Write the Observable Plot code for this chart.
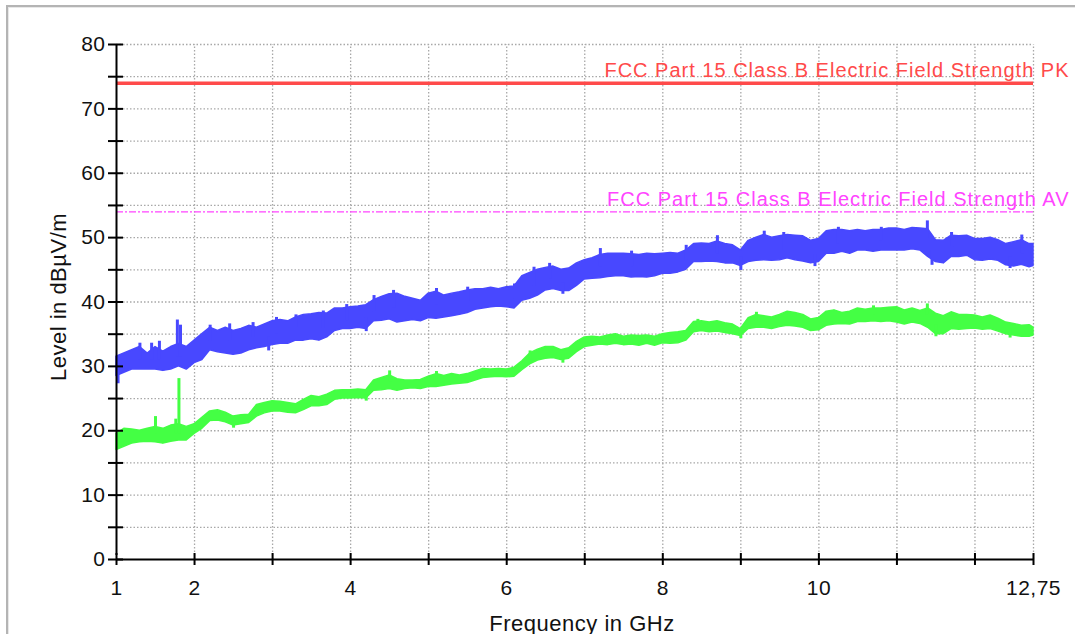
<!DOCTYPE html>
<html>
<head>
<meta charset="utf-8">
<script src="https://cdn.jsdelivr.net/npm/d3@7"></script>
<script src="https://cdn.jsdelivr.net/npm/@observablehq/plot@0.6"></script>
<style>
  html, body { margin: 0; padding: 0; background: #fff; overflow: hidden; }
  #wrap { position: relative; width: 1075px; height: 634px; }
  #frame { position: absolute; left: 6px; top: 5px; width: 1075px; height: 640px;
           border-left: 2px solid #b4b4b4; border-top: 2px solid #b4b4b4; box-shadow: inset 1px 1px 0 #e8e8e8; }
  #chart { position: absolute; left: 0; top: 0; }
  #chart g[fill="#ff4a4a"], #chart g[fill="#ff44ff"] { letter-spacing: 1px; }
  #chart g[fill="#111"] text { letter-spacing: 0.5px; }
</style>
</head>
<body>
<div id="wrap"><div id="frame"></div><div id="chart"></div></div>
<script>
// ---- data ----
const freq = [1.0,1.1,1.2,1.3,1.4,1.5,1.6,1.7,1.8,1.9,2.0,2.1,2.2,2.3,2.4,2.5,2.6,2.7,2.8,2.9,
  3.0,3.1,3.2,3.3,3.4,3.5,3.6,3.7,3.8,3.9,4.0,4.1,4.2,4.3,4.4,4.5,4.6,4.7,4.8,4.9,
  5.0,5.1,5.2,5.3,5.4,5.5,5.6,5.7,5.8,5.9,6.0,6.1,6.2,6.3,6.4,6.5,6.6,6.7,6.8,6.9,
  7.0,7.1,7.2,7.3,7.4,7.5,7.6,7.7,7.8,7.9,8.0,8.1,8.2,8.3,8.4,8.5,8.6,8.7,8.8,8.9,
  9.0,9.1,9.2,9.3,9.4,9.5,9.6,9.7,9.8,9.9,10.0,10.1,10.2,10.3,10.4,10.5,10.6,10.7,10.8,10.9,
  11.0,11.1,11.2,11.3,11.4,11.5,11.6,11.7,11.8,11.9,12.0,12.1,12.2,12.3,12.4,12.5,12.6,12.7,12.75];

// Peak trace: lower and upper edge of the noise band
const pkLow = [28.5,29,29.5,29.5,29.5,29.5,29.3,29.5,30,29.5,30.5,31,32.5,32.2,32,31.8,32,32.5,32.8,33,
  33.3,33.5,33.5,34,34,34.2,34,34.5,35.5,35.8,35.8,36,35.8,37,37.1,37.3,36.8,37,37.2,37,
  37.5,37.4,37.6,37.8,38,38.3,38.8,39,39.2,39.3,39.2,39,40.2,40.5,41,41.8,42,41.7,41.7,42.5,
  43.5,43.6,43.7,43.9,44,44,43.8,43.9,43.8,44,44.4,44.4,44.6,45,46.2,46.2,46.3,46.2,46,46,
  45.6,46.2,46.4,46.5,46.4,46.5,46.8,46.5,46.3,46,46.2,47.5,47.5,47.8,47.5,48,48,47.8,48,48,
  48,48,48.2,48,47,46.2,46,47,47,47.2,46.5,46.4,46.6,46.4,45.7,45.5,45.8,45.4,45.6];
const pkHigh = [31.5,32,32.5,33,32,33,32.3,33,33.5,33,34,35,36,35.5,36,35.5,35.8,36.3,36,36.5,
  37,37.2,37,37.6,38,38.1,38.3,38.2,39,39,39.2,39.3,39.5,40.3,40.8,41.2,41.3,40.8,40.5,40.2,
  41.3,41.6,41,41.3,41.5,41.8,42,42,42.2,42,42.3,42.4,44,44.5,45,45.3,45.5,45,45.2,46,
  46.5,46.8,47.3,47.5,47.5,47.5,47.4,47.3,47.5,47.4,47.5,47.6,47.5,48,49,49.1,49,49.4,49,48.8,
  48,49.5,50,50.4,50,50.2,50.4,50.3,50.2,49.5,49.8,51,51.2,51.2,51,51.2,51,51.2,51.2,51.4,
  51.4,51.2,51.5,51.4,51.3,49.6,49.5,50.3,50.2,50.3,49.8,49.8,50,49.6,49,49.3,49.6,49,49];

// Average trace: lower and upper edge of the noise band
const avLow = [17,17.5,18,18.2,18.3,18.2,18,18.3,18.5,18.5,19.5,20.3,21.5,21.6,21.3,20.8,21,21.2,22.2,22.7,
  23,23,22.8,22.7,23.2,23.8,23.8,24,24.8,25,25,25.1,25,26.2,26.3,26.5,26.2,26.5,26.6,26.5,
  26.8,26.8,27,27.2,27.3,27.4,27.8,28.2,28.3,28.4,28.3,28.4,29.4,30.3,30.9,31.2,31.3,31,31.2,32.2,
  33,33.2,33.4,33.3,33.5,33.3,33.4,33.2,33.5,33.2,33.6,33.5,33.6,34,35.3,35.5,35.3,35.4,35.2,35,
  34.7,35.8,36,36,35.8,36.1,36.3,36.2,36,35.5,35.6,36.3,36.5,36.6,36.5,36.9,36.9,37,36.9,37,
  36.8,36.5,36.8,36.6,36,35,35,35.8,35.7,35.8,35.9,35.7,35.8,35.4,35,34.8,34.6,34.6,34.8];
const avHigh = [19.5,20.3,20.2,20,20.3,20.6,20.3,20.8,21,20.6,21,22,23,23.2,22.8,22.2,22.4,22.5,24,24.3,
  24.6,24.5,24.3,24.1,24.8,25.4,25.2,25.6,26.2,26.3,26.3,26.4,26.3,27.8,28.2,28.6,28,27.8,27.8,27.9,
  28.4,28.8,28.5,28.8,28.6,28.8,29.2,29.6,29.5,29.6,29.5,29.8,30.8,32,32.6,33,33,32.5,32.8,33.8,
  34.5,34.6,34.5,34.8,35,34.6,34.8,34.7,34.8,34.6,35,35.2,35.3,35.5,36.9,37,36.8,37,36.7,36.5,
  35.8,37.5,38,37.8,37.6,38,38.5,38.3,38,37.3,37.5,38.5,38.7,38.3,38.5,39,38.8,39,39,39.1,
  39.2,38.7,39,38.6,39,38.2,37.8,38.4,38,38,37.9,37.6,37.9,37.4,36.8,36.6,36.3,36.4,36];

// Narrow spikes sticking out of the bands: frequency, start inside band, tip
const pkSpikeF   = [1.02,1.3,1.45,1.55,1.78,1.82,2.2,2.45,2.75,2.95,3.05,3.3,3.65,3.95,4.2,4.3,4.55,5.1,5.5,6.1,6.35,6.55,6.72,7.2,7.6,8.3,8.7,9.0,9.3,9.55,9.95,10.25,10.8,11.39,11.45,11.7,12.45,12.6];
const pkSpikeFrom= [30,31,31,31,31.5,31.5,34,34,34.5,34.5,35,36,36,37,37.5,38.5,39,39.5,40,40.5,42.5,43.5,43,45.5,45.5,46.5,47.5,47,48,48,47.5,49,49.5,50,48,48.5,47,47.5];
const pkSpikeTo  = [27.3,33.6,33.6,33.9,37.2,36.4,36.4,36.6,36.8,32.4,37.6,38,38.6,39.6,35.4,41,41.8,42.1,42.3,42.8,45.4,46,41.2,48.3,47.9,48.8,50.3,44.9,51,50.8,45.5,51.6,51.6,52.6,45.7,50.8,45.2,50.4];

const avSpikeF   = [1.5,1.76,1.8,2.5,4.2,4.5,5.1,6.3,6.72,8.45,9.0,9.2,10.7,11.39,11.5,12.45];
const avSpikeFrom= [19.5,19.5,19.5,21.5,25.5,27.5,28,31,31.8,36,35.2,37,38,38,36.5,35.8];
const avSpikeTo  = [22.2,21.8,28.1,20.4,24.6,29.3,29.2,32.4,30.5,37.3,34.3,38.4,39.4,39.7,34.6,34.4];

const limitPK = 74;
const limitAV = 54;
const limitPKLabel = "FCC Part 15 Class B Electric Field Strength PK";
const limitAVLabel = "FCC Part 15 Class B Electric Field Strength AV";

const xDomain = [1, 12.75];
const yDomain = [0, 80];
const xGrid = [2,3,4,5,6,7,8,9,10,11,12,12.75];
const xTicks = [1,2,3,4,5,6,7,8,9,10,11,12,12.75];
const xTickLabels = [1,2,4,6,8,10,12.75];
const yGrid = [5,10,15,20,25,30,35,40,45,50,55,60,65,70,75,80];
const yTicks = [0,5,10,15,20,25,30,35,40,45,50,55,60,65,70,75,80];
const yTickLabels = [0,10,20,30,40,50,60,70,80];
const xTitle = "Frequency in GHz";
const yTitle = "Level in dBµV/m";

const pkRows = freq.map((f, i) => ({f, lo: pkLow[i], hi: pkHigh[i]}));
const avRows = freq.map((f, i) => ({f, lo: avLow[i], hi: avHigh[i]}));
const pkSpikes = pkSpikeF.map((f, i) => ({f, a: pkSpikeFrom[i], b: pkSpikeTo[i]}));
const avSpikes = avSpikeF.map((f, i) => ({f, a: avSpikeFrom[i], b: avSpikeTo[i]}));

const FONT = "'Liberation Sans', Arial, sans-serif";
const fmt = d => String(d).replace(".", ",");
const BLUE = "#4848ff", GREEN = "#44ff44";

const chart = Plot.plot({
  width: 1075,
  height: 634,
  marginLeft: 116,
  marginRight: 42,
  marginTop: 44,
  marginBottom: 75,
  style: {fontFamily: FONT, fontSize: "21px", background: "transparent", color: "#000"},
  x: {domain: xDomain, axis: null},
  y: {domain: yDomain, axis: null},
  marks: [
    // dotted grid
    Plot.ruleX(xGrid, {x: d => d, y1: yDomain[0], y2: yDomain[1], stroke: "#a8a8a8", strokeWidth: 1.3, strokeDasharray: "1.5,2"}),
    Plot.ruleY(yGrid, {y: d => d, x1: xDomain[0], x2: xDomain[1], stroke: "#a8a8a8", strokeWidth: 1.3, strokeDasharray: "1.5,2"}),
    // limit lines
    Plot.ruleY([limitPK], {y: d => d, x1: xDomain[0], x2: xDomain[1], stroke: "#ff4a4a", strokeWidth: 3.5}),
    Plot.ruleY([limitAV], {y: d => d, x1: xDomain[0], x2: xDomain[1], stroke: "#ff44ff", strokeWidth: 1.3, strokeDasharray: "7,2,2,2"}),
    Plot.text([limitPKLabel], {x: xDomain[1], y: limitPK, text: d => d, textAnchor: "end", lineAnchor: "bottom", dx: 36, dy: -6, fill: "#ff4a4a", fontSize: 20}),
    Plot.text([limitAVLabel], {x: xDomain[1], y: limitAV, text: d => d, textAnchor: "end", lineAnchor: "bottom", dx: 36, dy: -6, fill: "#ff44ff", fontSize: 20}),
    // measured traces (noise band + spikes)
    Plot.areaY(pkRows, {x: "f", y1: "lo", y2: "hi", fill: BLUE, stroke: BLUE, strokeWidth: 1.5}),
    Plot.ruleX(pkSpikes, {x: "f", y1: "a", y2: "b", stroke: BLUE, strokeWidth: 3}),
    Plot.areaY(avRows, {x: "f", y1: "lo", y2: "hi", fill: GREEN, stroke: GREEN, strokeWidth: 1.5}),
    Plot.ruleX(avSpikes, {x: "f", y1: "a", y2: "b", stroke: GREEN, strokeWidth: 3}),
    // axes lines
    Plot.ruleX([xDomain[0]], {x: d => d, y1: yDomain[0], y2: yDomain[1], stroke: "#000", strokeWidth: 2, insetTop: -4}),
    Plot.ruleY([yDomain[0]], {y: d => d, x1: xDomain[0], x2: xDomain[1], stroke: "#000", strokeWidth: 2}),
    // ticks crossing the axes
    Plot.ruleY(yTicks, {y: d => d, x1: xDomain[0], x2: xDomain[0], insetLeft: -8, insetRight: -7, stroke: "#000", strokeWidth: 2}),
    Plot.ruleX(xTicks, {x: d => d, y1: yDomain[0], y2: yDomain[0], insetTop: -6, insetBottom: -6, stroke: "#000", strokeWidth: 2}),
    // tick labels
    Plot.text(yTickLabels, {x: xDomain[0], y: d => d, text: d => String(d), textAnchor: "end", dx: -11, fill: "#111", fontSize: 21}),
    Plot.text(xTickLabels, {x: d => d, y: yDomain[0], text: fmt, dy: 29, fill: "#111", fontSize: 21}),
    // axis titles
    Plot.text([xTitle], {frameAnchor: "bottom", text: d => d, textAnchor: "middle", lineAnchor: "bottom", dy: 71, dx: 7, fill: "#111", fontSize: 22}),
    Plot.text([yTitle], {frameAnchor: "left", text: d => d, textAnchor: "middle", lineAnchor: "middle", rotate: -90, dx: -58, dy: -5, fill: "#111", fontSize: 22})
  ]
});
document.getElementById("chart").appendChild(chart);
</script>
</body>
</html>
